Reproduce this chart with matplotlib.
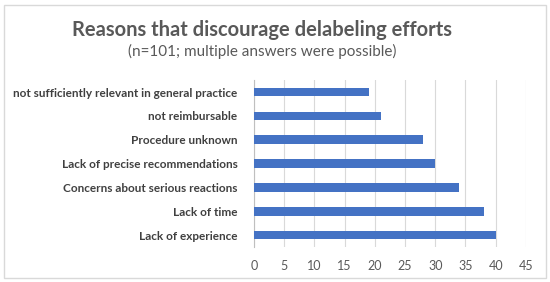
import matplotlib
matplotlib.use('Agg')
import matplotlib.pyplot as plt
from matplotlib.patches import Rectangle

reasons = ["Lack of experience", "Lack of time", "Concerns about serious reactions",
           "Lack of precise recommendations", "Procedure unknown",
           "not reimbursable", "not sufficiently relevant in general practice"]
counts = [40, 38, 34, 30, 28, 21, 19]
xticks = [0, 5, 10, 15, 20, 25, 30, 35, 40, 45]

plt.rcParams['font.family'] = ['Lato', 'DejaVu Sans']

fig = plt.figure(figsize=(5.5, 2.82), dpi=100)
ax = fig.add_axes([0.462, 0.124, 0.494, 0.592])

ax.barh(range(len(reasons)), counts, height=0.36, color='#4472C4', zorder=3)
ax.set_ylim(-0.5, len(reasons) - 0.5)
ax.set_xlim(0, 45)
ax.set_xticks(xticks)
ax.set_yticks(range(len(reasons)))
ax.set_yticklabels(reasons, fontsize=8.5, fontweight='bold', color='#404040')
ax.tick_params(axis='x', labelsize=9, labelcolor='#595959', length=0, pad=9)
ax.tick_params(axis='y', length=0, pad=12)
ax.grid(axis='x', color='#D9D9D9', linewidth=0.8, zorder=0)
for s in ['top', 'right', 'bottom']:
    ax.spines[s].set_visible(False)
ax.spines['left'].set_color('#BFBFBF')

fig.text(0.477, 0.895, "Reasons that discourage delabeling efforts", ha='center', va='center',
         fontsize=14.5, fontweight='bold', color='#595959')
fig.text(0.477, 0.818, "(n=101; multiple answers were possible)", ha='center', va='center',
         fontsize=11, color='#595959')

fig.patches.append(Rectangle((0.008, 0.015), 0.984, 0.968, transform=fig.transFigure,
                             fill=False, edgecolor='#D9D9D9', linewidth=1))

fig.savefig('out.png', dpi=100)
